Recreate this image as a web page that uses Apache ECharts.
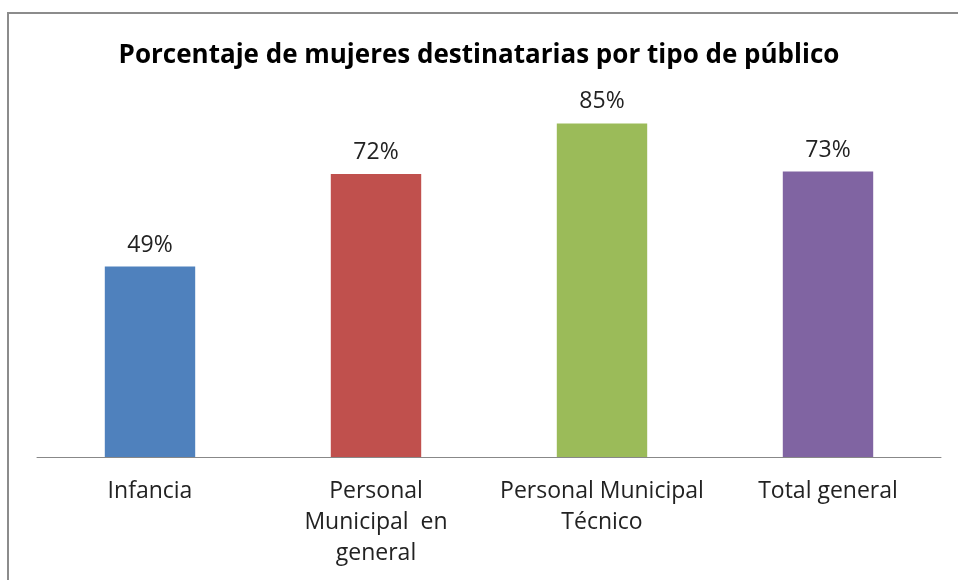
<!DOCTYPE html>
<html>
<head>
<meta charset="utf-8">
<script src="https://cdn.jsdelivr.net/npm/echarts@6/dist/echarts.min.js"></script>
<style>
  html, body { margin: 0; padding: 0; background: #fff; }
  #chart { width: 958px; height: 580px; }
</style>
</head>
<body>
<div id="chart"></div>
<script>
const title = 'Porcentaje de mujeres destinatarias por tipo de público';
const categories = ['Infancia', 'Personal\nMunicipal  en\ngeneral', 'Personal Municipal\nTécnico', 'Total general'];
const values = [48.6, 72.2, 85.1, 72.8];
const colors = ['#4f81bd', '#c0504d', '#9bbb59', '#8064a2'];

const chart = echarts.init(document.getElementById('chart'));
const font = '"Open Sans", "Noto Sans", sans-serif';

chart.setOption({
  animation: false,
  backgroundColor: '#fff',
  title: {
    text: title,
    left: 'center',
    top: 38,
    textStyle: { fontFamily: font, fontSize: 26, fontWeight: 'bold', color: '#000' }
  },
  graphic: [
    {
      type: 'polyline',
      shape: { points: [[8, 600], [8, 13], [960, 13]] },
      style: { stroke: '#8c8c8c', lineWidth: 2, fill: null }
    }
  ],
  grid: { left: 37, right: 17, top: 65, bottom: 123 },
  xAxis: {
    type: 'category',
    data: categories,
    axisLine: { lineStyle: { color: '#888', width: 1 } },
    axisTick: { show: false },
    axisLabel: {
      fontFamily: font, fontSize: 23, color: '#222', lineHeight: 31, margin: 19, interval: 0
    }
  },
  yAxis: {
    type: 'value',
    min: 0,
    max: 100,
    show: false
  },
  series: [{
    type: 'bar',
    barWidth: '40%',
    data: values.map((v, i) => ({ value: v, itemStyle: { color: colors[i] } })),
    label: {
      show: true,
      position: 'top',
      distance: 10,
      fontFamily: font,
      fontSize: 23,
      color: '#222',
      formatter: p => Math.round(p.value) + '%'
    }
  }]
});
</script>
</body>
</html>
